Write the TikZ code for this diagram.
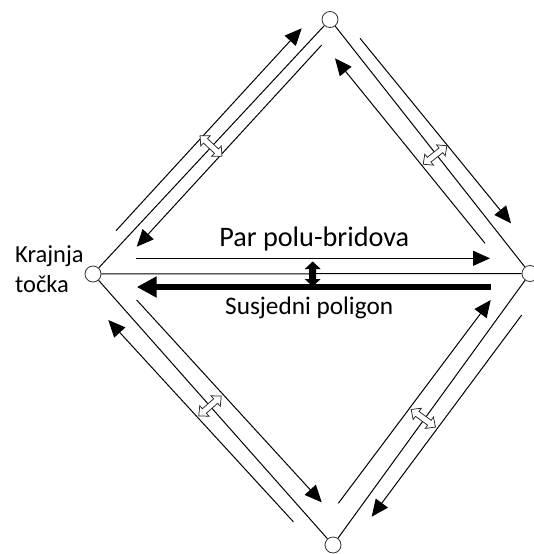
\documentclass[tikz,border=0pt]{standalone}
\usepackage{fontspec}
\setmainfont{Carlito}
\usetikzlibrary{arrows.meta}
\tikzset{
  hollow/.pic={\draw[line width=0.75pt, draw=black!85, fill=white] (-15,0) -- (-7.5,7) -- (-7.5,3) -- (7.5,3) -- (7.5,7) -- (15,0) -- (7.5,-7) -- (7.5,-3) -- (-7.5,-3) -- (-7.5,-7) -- cycle;},
  blackdbl/.pic={\fill[black] (0,-12.5) -- (8,-5) -- (3.5,-5) -- (3.5,5) -- (8,5) -- (0,12.5) -- (-8,5) -- (-3.5,5) -- (-3.5,-5) -- (-8,-5) -- cycle;}
}
\begin{document}
\begin{tikzpicture}[x=1pt,y=-1pt,
  vtx/.style={circle, draw=black!80, fill=white, line width=0.8pt, minimum size=16pt, inner sep=0pt},
  edgeline/.style={line width=1pt, black},
  halfedge/.style={line width=1pt, black, -{Triangle[length=17pt,width=15pt]}},
  thickhalf/.style={line width=6pt, black, -{Triangle[length=20pt,width=20pt]}},
  lbl/.style={inner sep=0pt, text=black}]
\useasboundingbox (0,0) rectangle (533,554);
% vertices
\node[vtx] (T) at (330,19.5) {};
\node[vtx] (L) at (93,274) {};
\node[vtx] (R) at (530,273.5) {};
\node[vtx] (B) at (333,545) {};
% edges
\draw[edgeline] (L) -- (T);
\draw[edgeline] (T) -- (R);
\draw[edgeline] (R) -- (B);
\draw[edgeline] (B) -- (L);
\draw[edgeline] (L) -- (R);
% half-edge coordinates
\coordinate (tlo1) at (116,230.7);   \coordinate (tlo2) at (301.7,28.3);
\coordinate (tli1) at (321.7,45);    \coordinate (tli2) at (136.7,246.7);
\coordinate (tro1) at (360,38.3);    \coordinate (tro2) at (511,223.3);
\coordinate (tri1) at (485,243.3);   \coordinate (tri2) at (335,58.3);
\coordinate (bro1) at (521.7,315);   \coordinate (bro2) at (371.7,516.7);
\coordinate (bri1) at (338.3,503.3); \coordinate (bri2) at (490.7,300);
\coordinate (blo1) at (293.3,521.7); \coordinate (blo2) at (108.3,320);
\coordinate (bli1) at (136.7,300);   \coordinate (bli2) at (321.7,502.3);
\coordinate (hu1) at (136,258.3);    \coordinate (hu2) at (490,258.3);
\coordinate (hl1) at (490.7,287);    \coordinate (hl2) at (136.7,287);
% half-edges
\draw[halfedge] (tlo1) -- (tlo2);
\draw[halfedge] (tli1) -- (tli2);
\draw[halfedge] (tro1) -- (tro2);
\draw[halfedge] (tri1) -- (tri2);
\draw[halfedge] (bro1) -- (bro2);
\draw[halfedge] (bri1) -- (bri2);
\draw[halfedge] (blo1) -- (blo2);
\draw[halfedge] (bli1) -- (bli2);
\draw[halfedge] (hu1) -- (hu2);
\draw[thickhalf] (hl1) -- (hl2);
% twin markers
\pic[rotate=-43] at (211,146) {hollow};
\pic[rotate=38.2] at (435,155) {hollow};
\pic[rotate=-36] at (423.3,418.3) {hollow};
\pic[rotate=41.5] at (210,406) {hollow};
\pic at (312.7,274) {blackdbl};
% labels
\node[lbl, anchor=base] (par) at (314.3,246) {\resizebox{190pt}{!}{Par polu-bridova}};
\node[lbl, anchor=base] (sus) at (309.2,314) {\resizebox{168pt}{!}{Susjedni poligon}};
\node[lbl, anchor=base west, font=\fontsize{24.5}{30}\selectfont] (kr) at (15,262.3) {Krajnja};
\node[lbl, anchor=base west, font=\fontsize{24.5}{30}\selectfont] (to) at (15,292.7) {točka};
\end{tikzpicture}
\end{document}
